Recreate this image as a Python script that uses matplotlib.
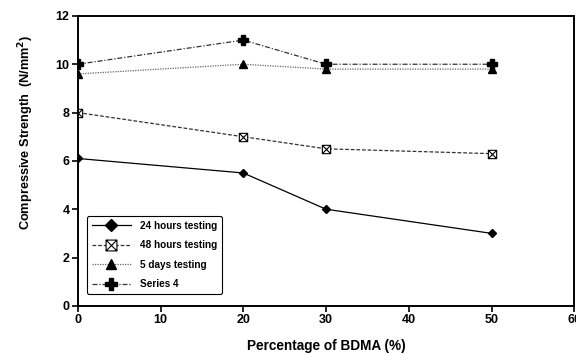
import matplotlib.pyplot as plt
from matplotlib.path import Path

plt.rcParams['font.family'] = ['Liberation Sans', 'DejaVu Sans']
plt.rcParams['font.weight'] = 'bold'

# datos
bdma = [0, 20, 30, 50]
h24 = [6.1, 5.5, 4.0, 3.0]
h48 = [8.0, 7.0, 6.5, 6.3]
d5 = [9.6, 10.0, 9.8, 9.8]
serie4 = [10.0, 11.0, 10.0, 10.0]
etiquetas = ['24 hours testing', '48 hours testing', '5 days testing', 'Series 4']

# marcador cuadrado con una X
cuadro_x = Path(
    [(-1, -1), (1, -1), (1, 1), (-1, 1), (-1, -1), (-1, -1), (1, 1), (-1, 1), (1, -1)],
    [Path.MOVETO, Path.LINETO, Path.LINETO, Path.LINETO, Path.CLOSEPOLY,
     Path.MOVETO, Path.LINETO, Path.MOVETO, Path.LINETO])

fig = plt.figure(figsize=(5.76, 3.54), dpi=100)
ax = fig.add_axes([0.135, 0.136, 0.862, 0.819])

ax.plot(bdma, h24, color='black', lw=0.9, ls='-', marker='D', ms=4.5,
        mfc='black', mec='black', label=etiquetas[0])
ax.plot(bdma, h48, color='#333333', lw=0.9, ls=(0, (3, 1.5)), marker=cuadro_x, ms=6,
        mfc='white', mec='black', mew=0.8, label=etiquetas[1])
ax.plot(bdma, d5, color='#666666', lw=0.9, ls=(0, (1, 1)), marker='^', ms=5.5,
        mfc='black', mec='black', label=etiquetas[2])
ax.plot(bdma, serie4, color='#333333', lw=0.9, ls=(0, (4, 1.5, 1, 1.5)), marker='P', ms=6.5,
        mfc='black', mec='black', label=etiquetas[3])

ax.set_xlim(0, 60)
ax.set_ylim(0, 12)
ax.set_xticks(range(0, 61, 10))
ax.set_yticks(range(0, 13, 2))
ax.tick_params(direction='out', length=4, width=1.2, labelsize=9, pad=2)
for s in ax.spines.values():
    s.set_linewidth(1.4)

ax.set_xlabel('Percentage of BDMA (%)', fontsize=9.8, fontweight='bold', labelpad=9)
ax.set_ylabel('Compressive Strength  (N/mm$^{\\mathbf{2}}$)', fontsize=9.2, fontweight='bold')
ax.yaxis.set_label_coords(-0.084, 0.597)

leg = ax.legend(loc='lower left', bbox_to_anchor=(0.008, 0.022), fontsize=7.2, fancybox=True,
                framealpha=1, edgecolor='black', handlelength=3.9, borderpad=0.5,
                labelspacing=0.95, handletextpad=0.9, markerscale=1.3)
leg.get_frame().set_linewidth(0.8)

fig.savefig('out.png', dpi=100)
